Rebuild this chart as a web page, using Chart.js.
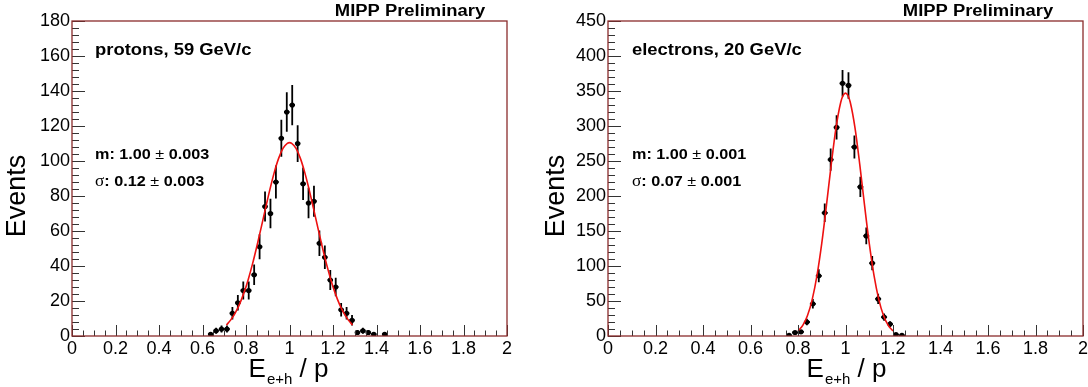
<!DOCTYPE html>
<html>
<head>
<meta charset="utf-8">
<script src="https://cdn.jsdelivr.net/npm/chart.js@4.4.1/dist/chart.umd.min.js"></script>
<style>
  html, body { margin:0; padding:0; background:#fff; overflow:hidden; width:1088px; height:387px; }
  canvas { position:absolute; top:0; }
  #c1 { left:0; }
  #c2 { left:540px; }
</style>
</head>
<body>
<canvas id="c1" width="540" height="387"></canvas>
<canvas id="c2" width="600" height="387"></canvas>
<script>
// ---------------- DATA ----------------
const binWidth = 0.025;

// protons, 59 GeV/c
const protonX = [0.6375,0.6625,0.6875,0.7125,0.7375,0.7625,0.7875,0.8125,0.8375,0.8625,0.8875,0.9125,0.9375,0.9625,0.9875,1.0125,1.0375,1.0625,1.0875,1.1125,1.1375,1.1625,1.1875,1.2125,1.2375,1.2625,1.2875,1.3125,1.3375,1.3625,1.3875,1.4375];
const protonY = [1,3,4,4,13,19,26,26,35,51,74,70,88,113,128,132,110,87,76,77,53,45,32,28,15,13,9,2,3,2,1,1];
const protonErr = [1,1.7,2,2,3.6,4.4,5.1,5.1,5.9,7.1,8.6,8.4,9.4,10.6,11.3,11.5,10.5,9.3,8.7,8.8,7.3,6.7,5.7,5.3,3.9,3.6,3,1.4,1.7,1.4,1,1];
const protonFitX = [0.71,0.73,0.75,0.77,0.79,0.81,0.83,0.85,0.87,0.89,0.91,0.93,0.95,0.97,0.99,1.00,1.01,1.03,1.05,1.07,1.09,1.11,1.13,1.15,1.17,1.19,1.21,1.23,1.25,1.27,1.29];
const protonFitY = [6.3,9.2,13.1,18.1,24.5,32.2,41.2,51.3,62.1,73.1,83.8,93.5,101.5,107.2,110.1,110.5,110.1,107.2,101.5,93.5,83.8,73.1,62.1,51.3,41.2,32.2,24.5,18.1,13.1,9.2,6.3];

// electrons, 20 GeV/c
const electronX = [0.7625,0.7875,0.8125,0.8375,0.8625,0.8875,0.9125,0.9375,0.9625,0.9875,1.0125,1.0375,1.0625,1.0875,1.1125,1.1375,1.1625,1.1875,1.2125,1.2375];
const electronY = [1,5,6,20,46,86,176,252,298,361,358,270,213,143,104,53,27,17,2,1];
const electronErr = [1,2.2,2.4,4.5,6.8,9.3,13.3,15.9,17.3,19,18.9,16.4,14.6,12,10.2,7.3,5.2,4.1,1.4,1];
const electronFitX = [0.80,0.82,0.84,0.86,0.88,0.90,0.92,0.94,0.96,0.98,0.99,1.00,1.01,1.02,1.04,1.06,1.08,1.10,1.12,1.14,1.16,1.18,1.20];
const electronFitY = [7.3,15.2,29.4,52.4,86.5,132.3,187.2,245.2,297.4,333.9,343.7,347,343.7,333.9,297.4,245.2,187.2,132.3,86.5,52.4,29.4,15.2,7.3];

// axes
const xMin = 0, xMax = 2, xStep = 0.2;
const protonYMax = 180, protonYStep = 20;
const electronYMax = 450, electronYStep = 50;

// texts
const prelimText = "MIPP Preliminary";
const protonLabel = "protons, 59 GeV/c";
const protonMean = ["m: 1.00 ", "±", " 0.003"];
const protonSigma = ["σ", ": 0.12 ", "±", " 0.003"];
const electronLabel = "electrons, 20 GeV/c";
const electronMean = ["m: 1.00 ", "±", " 0.001"];
const electronSigma = ["σ", ": 0.07 ", "±", " 0.001"];
const yTitle = "Events";
const xTitleMain = "E", xTitleSub = "e+h", xTitleRest = " / p";

// ---------------- RENDER ----------------
const SANS = "'Liberation Sans', Arial, Helvetica, sans-serif";
const SERIF = "'Liberation Serif', 'Times New Roman', serif";
const FRAME = '#8a2c2c';

function pts(xs, ys) { return xs.map((x, i) => ({x: x, y: ys[i]})); }

function drawSegments(ctx, x, y, segs, stretch) {
  ctx.save();
  ctx.translate(x, y);
  ctx.scale(stretch, 1);
  ctx.textBaseline = 'middle';
  ctx.textAlign = 'left';
  let cx = 0;
  for (const s of segs) {
    ctx.font = s.f;
    ctx.fillText(s.t, cx, 0);
    cx += ctx.measureText(s.t).width;
  }
  ctx.restore();
}

const rootDecor = {
  id: 'rootDecor',
  beforeDatasetsDraw(chart) {
    const ctx = chart.ctx, xs = chart.scales.x, ys = chart.scales.y, a = chart.chartArea;
    ctx.save();
    ctx.beginPath(); ctx.rect(a.left, a.top, a.width, a.height); ctx.clip();
    ctx.strokeStyle = '#000'; ctx.lineWidth = 1.8;
    chart.data.datasets.forEach(ds => {
      if (!ds.errors) return;
      ds.data.forEach((d, i) => {
        const e = ds.errors[i];
        const px = xs.getPixelForValue(d.x), py = ys.getPixelForValue(d.y);
        ctx.beginPath();
        ctx.moveTo(px, ys.getPixelForValue(Math.max(0, d.y - e)));
        ctx.lineTo(px, ys.getPixelForValue(d.y + e));
        ctx.moveTo(xs.getPixelForValue(d.x - binWidth / 2), py);
        ctx.lineTo(xs.getPixelForValue(d.x + binWidth / 2), py);
        ctx.stroke();
      });
    });
    ctx.restore();
  },
  afterDraw(chart, args, o) {
    const ctx = chart.ctx, xs = chart.scales.x, ys = chart.scales.y, a = chart.chartArea;
    ctx.save();
    // ticks (inward, ROOT style)
    ctx.strokeStyle = '#333'; ctx.lineWidth = 1;
    const yMinor = o.yStep / 5;
    for (let k = 0; k <= Math.round(o.yMax / yMinor); k++) {
      const v = k * yMinor;
      const py = Math.round(ys.getPixelForValue(v)) + 0.5;
      const len = (k % 5 === 0) ? 13 : 7;
      ctx.beginPath(); ctx.moveTo(a.left, py); ctx.lineTo(a.left + len, py); ctx.stroke();
    }
    const xMinor = 0.05;
    for (let k = 0; k <= Math.round((xMax - xMin) / xMinor); k++) {
      const v = xMin + k * xMinor;
      const px = Math.round(xs.getPixelForValue(v)) + 0.5;
      const len = (k % 4 === 0) ? 11 : 5.5;
      ctx.beginPath(); ctx.moveTo(px, a.bottom); ctx.lineTo(px, a.bottom - len); ctx.stroke();
    }
    // frame
    ctx.strokeStyle = FRAME; ctx.lineWidth = 1.3;
    ctx.strokeRect(a.left, a.top, a.width, a.height);

    // texts
    ctx.fillStyle = '#000';
    ctx.save();
    ctx.translate(o.prelimX, 12); ctx.scale(1.15, 1);
    ctx.font = 'bold 16px ' + SANS; ctx.textAlign = 'center'; ctx.textBaseline = 'middle';
    ctx.fillText(prelimText, 0, 0);
    ctx.restore();
    drawSegments(ctx, o.textX, 51, [{t: o.label, f: 'bold 16px ' + SANS}], 1.15);
    const B = 'bold 15px ' + SANS, N = '15px ' + SANS, S = '16px ' + SERIF;
    drawSegments(ctx, o.textX, 155, [{t: o.mean[0], f: B}, {t: o.mean[1], f: N}, {t: o.mean[2], f: B}], 1.08);
    drawSegments(ctx, o.textX, 182, [{t: o.sigma[0], f: S}, {t: o.sigma[1], f: B}, {t: o.sigma[2], f: N}, {t: o.sigma[3], f: B}], 1.08);
    // y title
    ctx.save();
    ctx.translate(o.yTitleX, 196); ctx.rotate(-Math.PI / 2);
    ctx.font = '27px ' + SANS; ctx.textAlign = 'center'; ctx.textBaseline = 'middle';
    ctx.fillText(yTitle, 0, 0);
    ctx.restore();
    // x title
    ctx.save();
    ctx.textBaseline = 'alphabetic'; ctx.textAlign = 'left';
    const fBig = '26px ' + SANS, fSub = '15px ' + SANS;
    ctx.font = fBig; const w1 = ctx.measureText(xTitleMain).width, w3 = ctx.measureText(xTitleRest).width;
    ctx.font = fSub; const w2 = ctx.measureText(xTitleSub).width;
    let sx = o.xTitleX - (w1 + w2 + w3) / 2;
    ctx.font = fBig; ctx.fillText(xTitleMain, sx, 377); sx += w1;
    ctx.font = fSub; ctx.fillText(xTitleSub, sx + 1, 384); sx += w2 + 1;
    ctx.font = fBig; ctx.fillText(xTitleRest, sx, 377);
    ctx.restore();
    ctx.restore();
  }
};

function makeChart(id, cfg) {
  new Chart(document.getElementById(id), {
    type: 'scatter',
    data: {
      datasets: [
        { type: 'line', data: pts(cfg.fitX, cfg.fitY), borderColor: '#ee1111', borderWidth: 1.6,
          pointRadius: 0, cubicInterpolationMode: 'monotone', fill: false, order: 1 },
        { type: 'scatter', data: pts(cfg.x, cfg.y), errors: cfg.err, pointRadius: 2.6,
          pointBackgroundColor: '#000', pointBorderColor: '#000', pointBorderWidth: 0, order: 2 }
      ]
    },
    options: {
      responsive: false, animation: false, events: [],
      layout: { padding: { top: 21, right: cfg.padRight, left: 0, bottom: 0 } },
      plugins: { legend: { display: false }, tooltip: { enabled: false }, rootDecor: cfg.decor },
      scales: {
        x: {
          type: 'linear', min: xMin, max: xMax,
          afterFit(s) { s.height = 51; },
          ticks: { stepSize: xStep, autoSkip: false, maxRotation: 0, padding: 2, color: '#000',
                   font: { family: SANS, size: 18 },
                   callback: v => String(Math.round(v * 10) / 10) },
          grid: { display: false, drawTicks: false }, border: { display: false }
        },
        y: {
          min: 0, max: cfg.yMax,
          afterFit(s) { s.width = cfg.yWidth; },
          ticks: { stepSize: cfg.yStep, padding: 2, color: '#000', font: { family: SANS, size: 18 },
                   callback: v => String(Math.round(v)) },
          grid: { display: false, drawTicks: false }, border: { display: false }
        }
      }
    },
    plugins: [rootDecor]
  });
}

makeChart('c1', {
  x: protonX, y: protonY, err: protonErr, fitX: protonFitX, fitY: protonFitY,
  yMax: protonYMax, yStep: protonYStep, yWidth: 72, padRight: 33,
  decor: { yMax: protonYMax, yStep: protonYStep, prelimX: 410, textX: 95, yTitleX: 18, xTitleX: 288,
           label: protonLabel, mean: protonMean, sigma: protonSigma }
});
makeChart('c2', {
  x: electronX, y: electronY, err: electronErr, fitX: electronFitX, fitY: electronFitY,
  yMax: electronYMax, yStep: electronYStep, yWidth: 68, padRight: 57,
  decor: { yMax: electronYMax, yStep: electronYStep, prelimX: 438, textX: 92, yTitleX: 17, xTitleX: 306,
           label: electronLabel, mean: electronMean, sigma: electronSigma }
});
</script>
</body>
</html>
